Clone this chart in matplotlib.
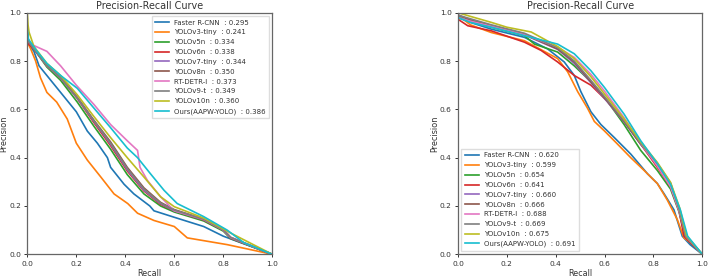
import matplotlib
matplotlib.use("Agg")
import matplotlib.pyplot as plt

names = ["Faster R-CNN", "YOLOv3-tiny", "YOLOv5n", "YOLOv6n", "YOLOv7-tiny",
         "YOLOv8n", "RT-DETR-l", "YOLOv9-t", "YOLOv10n", "Ours(AAPW-YOLO)"]
colors = ["#1f77b4", "#ff7f0e", "#2ca02c", "#d62728", "#9467bd",
          "#8c564b", "#e377c2", "#7f7f7f", "#bcbd22", "#17becf"]
ap_left = ["0.295", "0.241", "0.334", "0.338", "0.344", "0.350", "0.373", "0.349", "0.360", "0.386"]
ap_right = ["0.620", "0.599", "0.654", "0.641", "0.660", "0.666", "0.688", "0.669", "0.675", "0.691"]

# ---- left panel curves (recall, precision)
L_frcnn_r = [0, 0.005, 0.027, 0.048, 0.08, 0.136, 0.2, 0.245, 0.286, 0.327, 0.34, 0.395, 0.435, 0.5, 0.517, 0.61, 0.72, 0.8, 0.84, 1.0]
L_frcnn_p = [0.92, 0.87, 0.84, 0.78, 0.74, 0.67, 0.59, 0.51, 0.46, 0.40, 0.36, 0.29, 0.25, 0.20, 0.18, 0.15, 0.115, 0.075, 0.06, 0.0]
L_v3_r = [0, 0.004, 0.014, 0.034, 0.054, 0.08, 0.12, 0.163, 0.2, 0.245, 0.3, 0.354, 0.41, 0.45, 0.517, 0.6, 0.653, 0.816, 1.0]
L_v3_p = [0.90, 0.87, 0.85, 0.80, 0.73, 0.67, 0.63, 0.56, 0.46, 0.39, 0.32, 0.25, 0.21, 0.17, 0.14, 0.115, 0.068, 0.04, 0.0]
L_v5_r = [0, 0.005, 0.027, 0.08, 0.136, 0.204, 0.272, 0.34, 0.408, 0.476, 0.544, 0.6, 0.72, 0.8, 0.83, 1.0]
L_v5_p = [0.92, 0.88, 0.85, 0.775, 0.72, 0.63, 0.53, 0.435, 0.33, 0.25, 0.20, 0.175, 0.138, 0.096, 0.065, 0.0]
L_v6_r = [0, 0.005, 0.027, 0.08, 0.136, 0.204, 0.272, 0.34, 0.408, 0.476, 0.544, 0.6, 0.72, 0.8, 0.83, 1.0]
L_v6_p = [0.91, 0.87, 0.85, 0.78, 0.73, 0.645, 0.545, 0.45, 0.345, 0.262, 0.207, 0.18, 0.142, 0.10, 0.067, 0.0]
L_v7_r = [0, 0.005, 0.027, 0.08, 0.136, 0.204, 0.272, 0.34, 0.408, 0.476, 0.544, 0.6, 0.72, 0.8, 0.83, 1.0]
L_v7_p = [0.92, 0.88, 0.85, 0.78, 0.73, 0.646, 0.55, 0.456, 0.35, 0.265, 0.21, 0.18, 0.143, 0.10, 0.068, 0.0]
L_v8_r = [0, 0.005, 0.027, 0.08, 0.136, 0.204, 0.272, 0.34, 0.408, 0.476, 0.544, 0.6, 0.72, 0.8, 0.83, 1.0]
L_v8_p = [0.92, 0.88, 0.85, 0.785, 0.735, 0.65, 0.555, 0.465, 0.36, 0.275, 0.215, 0.185, 0.146, 0.103, 0.07, 0.0]
L_detr_r = [0, 0.005, 0.027, 0.08, 0.136, 0.2, 0.272, 0.34, 0.408, 0.45, 0.46, 0.49, 0.544, 0.6, 0.72, 0.8, 0.83, 1.0]
L_detr_p = [0.90, 0.88, 0.864, 0.84, 0.78, 0.70, 0.62, 0.537, 0.47, 0.43, 0.36, 0.306, 0.238, 0.18, 0.145, 0.102, 0.07, 0.0]
L_v9_r = [0, 0.005, 0.027, 0.08, 0.136, 0.204, 0.272, 0.34, 0.408, 0.476, 0.544, 0.6, 0.72, 0.8, 0.83, 1.0]
L_v9_p = [0.92, 0.88, 0.85, 0.78, 0.73, 0.648, 0.552, 0.46, 0.355, 0.27, 0.212, 0.183, 0.145, 0.102, 0.07, 0.0]
L_v10_r = [0, 0.003, 0.007, 0.027, 0.08, 0.136, 0.204, 0.272, 0.34, 0.408, 0.476, 0.544, 0.6, 0.72, 0.83, 1.0]
L_v10_p = [1.0, 0.95, 0.92, 0.86, 0.79, 0.74, 0.66, 0.57, 0.483, 0.40, 0.32, 0.238, 0.197, 0.15, 0.088, 0.0]
L_ours_r = [0, 0.005, 0.04, 0.08, 0.136, 0.204, 0.272, 0.34, 0.408, 0.45, 0.503, 0.558, 0.612, 0.72, 0.816, 0.884, 1.0]
L_ours_p = [0.93, 0.89, 0.84, 0.79, 0.74, 0.687, 0.605, 0.524, 0.44, 0.40, 0.333, 0.265, 0.21, 0.156, 0.10, 0.048, 0.0]

# ---- right panel curves (recall, precision)
R_frcnn_r = [0, 0.05, 0.136, 0.272, 0.367, 0.435, 0.476, 0.503, 0.544, 0.585, 0.64, 0.707, 0.776, 0.816, 0.844, 0.884, 0.918, 0.95, 1.0]
R_frcnn_p = [0.98, 0.96, 0.932, 0.898, 0.85, 0.796, 0.74, 0.673, 0.59, 0.537, 0.483, 0.415, 0.333, 0.293, 0.25, 0.184, 0.075, 0.04, 0.0]
R_v3_r = [0, 0.05, 0.136, 0.272, 0.408, 0.449, 0.49, 0.53, 0.558, 0.6, 0.653, 0.707, 0.762, 0.816, 0.857, 0.898, 0.925, 0.952, 1.0]
R_v3_p = [0.99, 0.95, 0.918, 0.884, 0.81, 0.755, 0.673, 0.605, 0.55, 0.51, 0.456, 0.40, 0.347, 0.293, 0.224, 0.143, 0.068, 0.048, 0.0]
R_v5_r = [0, 0.05, 0.136, 0.272, 0.313, 0.408, 0.476, 0.544, 0.612, 0.68, 0.748, 0.816, 0.87, 0.905, 0.93, 1.0]
R_v5_p = [0.98, 0.965, 0.94, 0.905, 0.87, 0.837, 0.78, 0.714, 0.633, 0.537, 0.43, 0.347, 0.27, 0.175, 0.072, 0.0]
R_v6_r = [0, 0.04, 0.136, 0.272, 0.34, 0.408, 0.476, 0.544, 0.612, 0.68, 0.748, 0.816, 0.87, 0.905, 0.925, 1.0]
R_v6_p = [0.973, 0.946, 0.925, 0.878, 0.844, 0.796, 0.74, 0.70, 0.633, 0.55, 0.456, 0.36, 0.28, 0.18, 0.075, 0.0]
R_v7_r = [0, 0.05, 0.136, 0.272, 0.408, 0.476, 0.544, 0.612, 0.68, 0.748, 0.816, 0.87, 0.905, 0.932, 1.0]
R_v7_p = [0.99, 0.97, 0.944, 0.908, 0.848, 0.79, 0.71, 0.63, 0.548, 0.455, 0.372, 0.29, 0.182, 0.075, 0.0]
R_v8_r = [0, 0.05, 0.136, 0.272, 0.408, 0.476, 0.544, 0.612, 0.68, 0.748, 0.816, 0.87, 0.905, 0.932, 1.0]
R_v8_p = [0.99, 0.97, 0.946, 0.91, 0.85, 0.796, 0.714, 0.633, 0.55, 0.456, 0.374, 0.293, 0.184, 0.075, 0.0]
R_detr_r = [0, 0.05, 0.136, 0.272, 0.408, 0.476, 0.544, 0.6, 0.68, 0.748, 0.816, 0.87, 0.905, 0.935, 1.0]
R_detr_p = [0.98, 0.965, 0.945, 0.91, 0.857, 0.815, 0.745, 0.675, 0.565, 0.46, 0.365, 0.28, 0.18, 0.072, 0.0]
R_v9_r = [0, 0.05, 0.136, 0.272, 0.408, 0.476, 0.544, 0.612, 0.68, 0.748, 0.816, 0.87, 0.905, 0.932, 1.0]
R_v9_p = [0.99, 0.975, 0.95, 0.915, 0.855, 0.80, 0.72, 0.638, 0.553, 0.46, 0.377, 0.295, 0.186, 0.076, 0.0]
R_v10_r = [0, 0.05, 0.136, 0.2, 0.3, 0.408, 0.476, 0.544, 0.612, 0.68, 0.748, 0.816, 0.87, 0.908, 0.935, 1.0]
R_v10_p = [1.0, 0.985, 0.96, 0.94, 0.92, 0.86, 0.81, 0.735, 0.648, 0.56, 0.465, 0.38, 0.298, 0.19, 0.078, 0.0]
R_ours_r = [0, 0.05, 0.136, 0.272, 0.408, 0.476, 0.544, 0.6, 0.68, 0.748, 0.816, 0.87, 0.91, 0.94, 1.0]
R_ours_p = [0.98, 0.96, 0.94, 0.905, 0.87, 0.83, 0.76, 0.69, 0.58, 0.47, 0.375, 0.29, 0.184, 0.075, 0.0]

left_curves = [(L_frcnn_r, L_frcnn_p), (L_v3_r, L_v3_p), (L_v5_r, L_v5_p), (L_v6_r, L_v6_p),
               (L_v7_r, L_v7_p), (L_v8_r, L_v8_p), (L_detr_r, L_detr_p), (L_v9_r, L_v9_p),
               (L_v10_r, L_v10_p), (L_ours_r, L_ours_p)]
right_curves = [(R_frcnn_r, R_frcnn_p), (R_v3_r, R_v3_p), (R_v5_r, R_v5_p), (R_v6_r, R_v6_p),
                (R_v7_r, R_v7_p), (R_v8_r, R_v8_p), (R_detr_r, R_detr_p), (R_v9_r, R_v9_p),
                (R_v10_r, R_v10_p), (R_ours_r, R_ours_p)]

fig = plt.figure(figsize=(7.08, 2.77), dpi=100)
ax1 = fig.add_axes([27.3 / 708, 22.7 / 277, 245 / 708, 241.6 / 277])
ax2 = fig.add_axes([458 / 708, 22.7 / 277, 244.3 / 708, 241.6 / 277])

for ax, curves, aps, loc in [(ax1, left_curves, ap_left, "upper right"),
                             (ax2, right_curves, ap_right, "lower left")]:
    for (r, p), name, c, ap in zip(curves, names, colors, aps):
        ax.plot(r, p, color=c, lw=1.2, label=f"{name}  : {ap}")
    ax.set_xlim(0, 1)
    ax.set_ylim(0, 1)
    ax.set_xticks([0, 0.2, 0.4, 0.6, 0.8, 1.0])
    ax.set_yticks([0, 0.2, 0.4, 0.6, 0.8, 1.0])
    ax.tick_params(labelsize=5.4, length=2.5, width=0.7, pad=2, colors="#333333")
    for s in ax.spines.values():
        s.set_color("#666666")
        s.set_linewidth(0.9)
    ax.set_xlabel("Recall", fontsize=5.9, labelpad=2, color="#333333")
    ax.set_ylabel("Precision", fontsize=5.9, labelpad=0.8, color="#333333")
    ax.set_title("Precision-Recall Curve", fontsize=6.9, pad=2.5, color="#333333")
    ax.legend(loc=loc, fontsize=5.0, handlelength=2.0, labelspacing=0.55,
              borderpad=0.5, borderaxespad=0.5, handletextpad=0.7, frameon=True,
              framealpha=1.0, edgecolor="#dddddd", fancybox=False, labelcolor="#333333")

fig.savefig("out.png", dpi=100)
